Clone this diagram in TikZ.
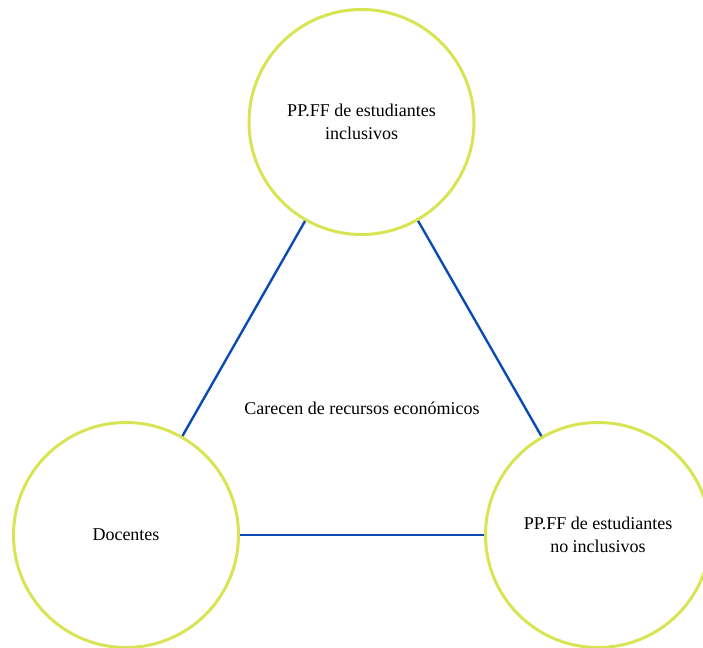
\documentclass[tikz,border=0pt]{standalone}
\usepackage{fontspec}
\setmainfont{Liberation Serif}
\definecolor{ringcol}{RGB}{216,228,84}
\definecolor{linkcol}{RGB}{12,76,178}
\begin{document}
\begin{tikzpicture}[x=1pt,y=-1pt,
  actor/.style={circle,draw=ringcol,line width=3pt,minimum size=225pt,inner sep=0pt,
    align=center,font=\fontsize{18}{22.5}\selectfont},
  link/.style={draw=linkcol,line width=2.4pt},
  caption/.style={font=\fontsize{18}{22.5}\selectfont}]
  \useasboundingbox (0,0) rectangle (703,647);
  \clip (0,0) rectangle (703,647);
  \node[actor] (top) at (361.5,122) {PP.FF de estudiantes\\inclusivos};
  \node[actor] (doc) at (126,535) {Docentes};
  \node[actor] (noinc) at (598,535) {PP.FF de estudiantes\\no inclusivos};
  \draw[link] (top) -- (doc);
  \draw[link] (top) -- (noinc);
  \draw[link] (doc) -- (noinc);
  \node[caption] (lbl) at (362,408) {Carecen de recursos económicos};
\end{tikzpicture}
\end{document}
